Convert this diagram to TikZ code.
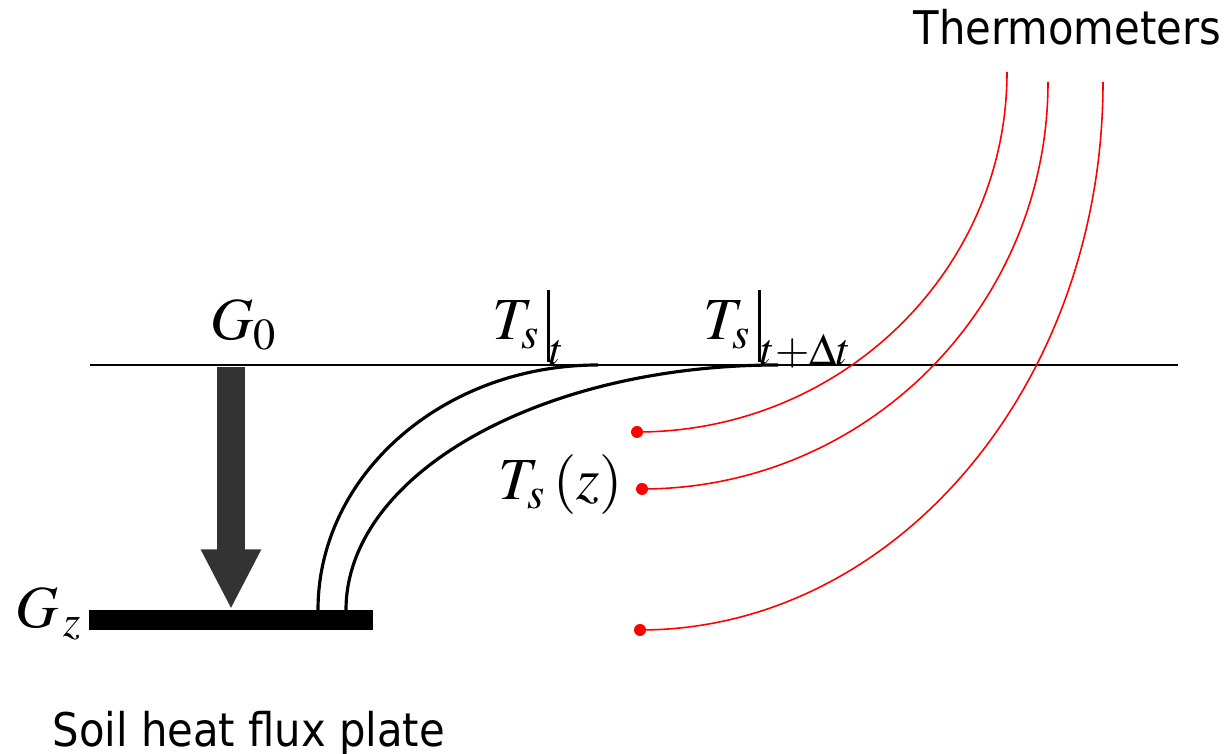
\documentclass[tikz,border=0pt]{standalone}
\usepackage{amsmath,amssymb}
\usepackage{mathptmx}
\usepackage{fontspec}
\newfontfamily\labelfont{DejaVu Sans Condensed}
\usetikzlibrary{arrows.meta, positioning, calc}
\tikzstyle{wire} = [line width=0.9pt]
\tikzstyle{probe} = [red, line width=0.45pt]
\tikzstyle{tip} = [circle, fill=red, inner sep=0pt, minimum size=0.12cm]
\tikzstyle{sym} = [inner sep=0pt, font=\fontsize{17}{20}\selectfont]
\tikzstyle{word} = [inner sep=0pt, font=\labelfont\fontsize{13.2}{15}\selectfont]
\newcommand{\atbar}{\mathord{\vrule height 14.2pt depth 6.3pt width 0.8pt}}

\begin{document}
\begin{tikzpicture}[>=stealth]
    \useasboundingbox (0,0) rectangle (12.27,7.54);
    % soil surface
    \coordinate (left) at (0.90,3.89);
    \coordinate (right) at (11.78,3.89);
    \draw[line width=0.4pt] (left) -- (right);

    % plate and flux
    \node (plate) [fill=black, minimum width=2.84cm, minimum height=0.2cm, inner sep=0pt] at (2.31,1.34) {};
    \coordinate (top) at (2.31,3.87);
    \draw[line width=0.28cm, color=black!80, -{Triangle[length=0.6cm, width=0.56cm]}] (top) -- (plate.north);

    \node (g0) [sym, anchor=base west] at (2.10,4.14) {$G_0$};
    \node (gz) [sym, anchor=base west] at (0.15,1.26) {$G_{\,z}$};
    \node (platetext) [word, anchor=base west] at (0.52,0.07) {Soil heat flux plate};

    % profiles
    \coordinate (p1) at (3.18,1.44);
    \coordinate (p2) at (3.46,1.44);
    \draw[wire] (p1) arc[start angle=180, end angle=90, x radius=2.80, y radius=2.45];
    \draw[wire] (p2) arc[start angle=180, end angle=90, x radius=4.32, y radius=2.45];
    \node (ts1) [sym, anchor=base west] at (4.92,4.14) {$T_s\,\atbar_t$};
    \node (ts2) [sym, anchor=base west] at (7.03,4.14) {$T_s\,\atbar_{t+\Delta t}$};
    \node (tsz) [sym, anchor=base west] at (4.98,2.54) {$T_s\,(z)$};

    % thermometers
    \node (d1) [tip] at (6.37,3.22) {};
    \node (d2) [tip] at (6.42,2.65) {};
    \node (d3) [tip] at (6.40,1.24) {};
    \draw[probe] (d1.center) arc[start angle=270, end angle=360, x radius=3.70, y radius=3.60];
    \draw[probe] (d2.center) arc[start angle=270, end angle=360, x radius=4.06, y radius=4.07];
    \draw[probe] (d3.center) arc[start angle=270, end angle=360, x radius=4.63, y radius=5.48];
    \node (thermo) [word, anchor=base west] at (9.13,7.09) {Thermometers};
\end{tikzpicture}
\end{document}
